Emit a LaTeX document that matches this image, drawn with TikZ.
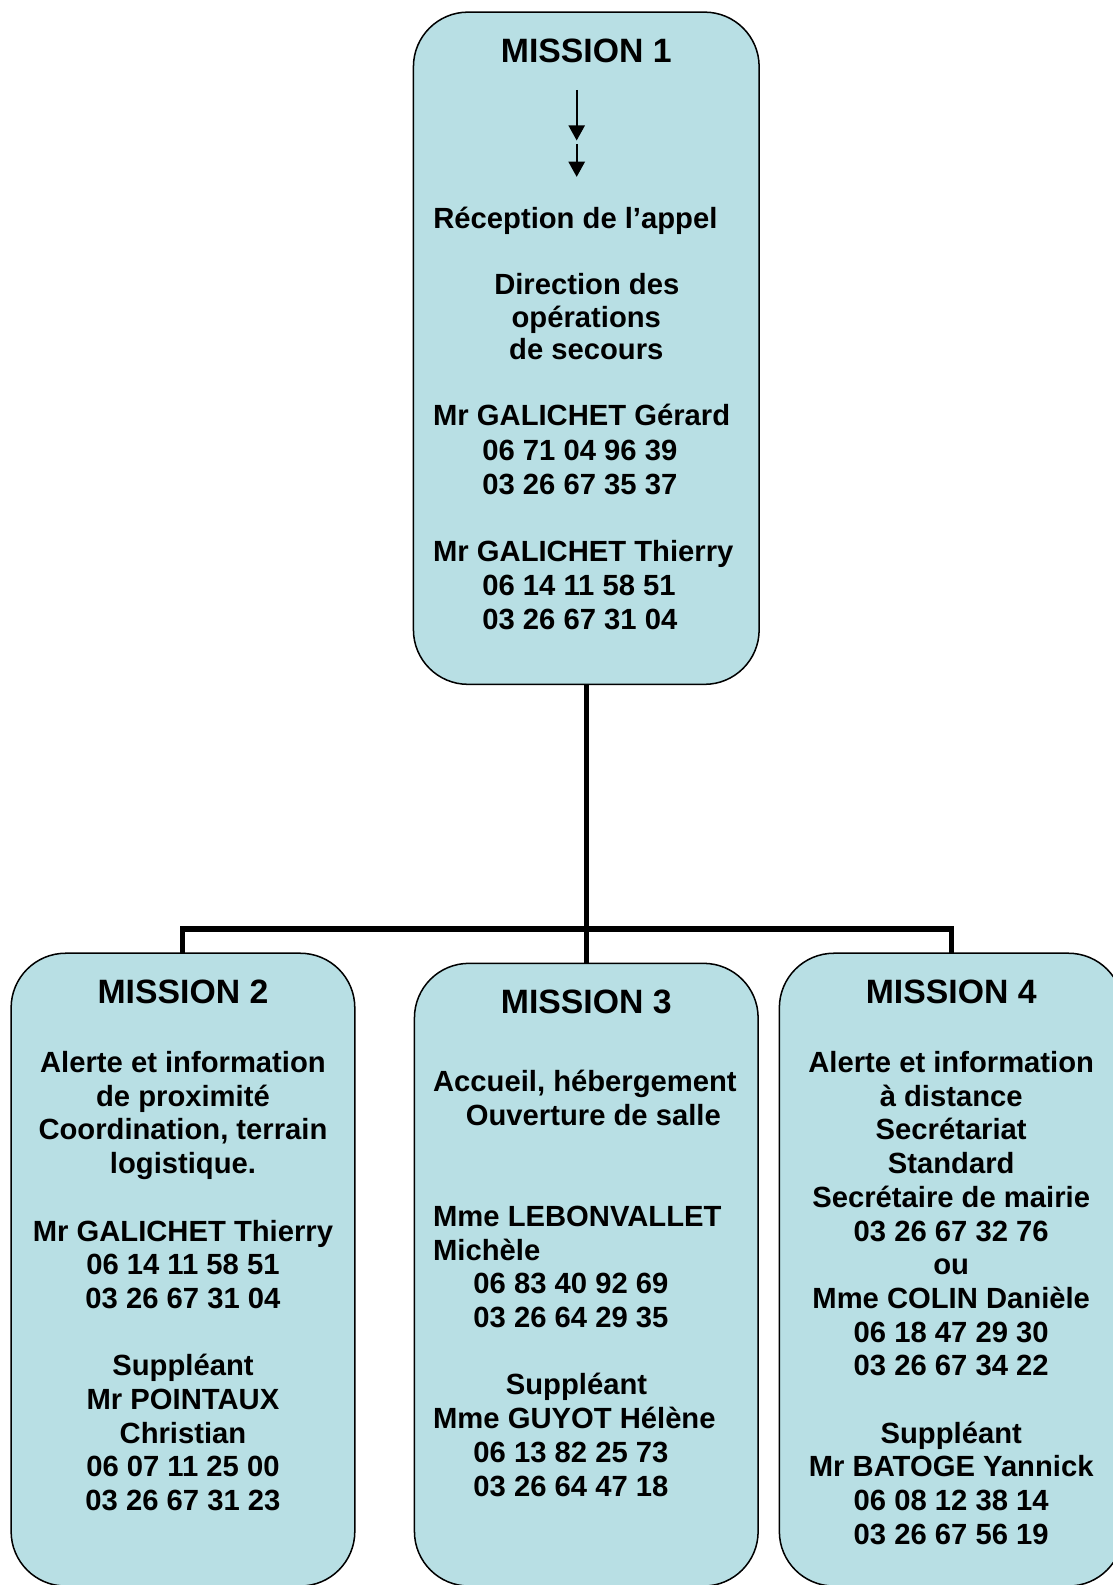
\documentclass[tikz,border=0pt]{standalone}
\usepackage{fontspec}
\setmainfont{Liberation Sans}
\usetikzlibrary{arrows.meta}
\definecolor{boxfill}{RGB}{184,223,228}
\begin{document}
\begin{tikzpicture}[x=1pt,y=-1pt,
  box/.style={draw=black, line width=1.5pt, fill=boxfill, rounded corners=54pt, inner sep=0pt, outer sep=0pt},
  conn/.style={draw=black, line width=5pt, line join=miter},
  arr/.style={draw=black, line width=2pt, -{Triangle[length=15pt,width=16pt]}},
  ttl/.style={font=\bfseries\fontsize{33.4}{38}\selectfont, inner sep=0pt, anchor=base},
  txt/.style={font=\bfseries\fontsize{28.9}{33.3}\selectfont, inner sep=0pt, anchor=base},
  txl/.style={txt, anchor=base west}]
\useasboundingbox (0,0) rectangle (1101,1568);
\fill[white] (0,0) rectangle (1101,1568);

% boxes
\node[box, minimum width=342pt, minimum height=665pt] (m1) at (580,344.5) {};
\node[box, minimum width=340pt, minimum height=626pt] (m2) at (181,1256) {};
\node[box, minimum width=340pt, minimum height=616pt] (m3) at (580,1261) {};
\node[box, minimum width=340pt, minimum height=626pt] (m4) at (941,1256) {};

% connectors
\coordinate (j) at (580,919);
\draw[conn] (m1.south) -- (m3.north);
\draw[conn] (m2.north) -- (m2.north |- j) -- (m4.north |- j) -- (m4.north);

% arrows in mission 1
\coordinate (a1) at (570.5,89);
\coordinate (a2) at (570.5,139);
\coordinate (a3) at (570.5,142.5);
\coordinate (a4) at (570.5,175);
\draw[arr] (a1) -- (a2);
\draw[arr] (a3) -- (a4);

% Mission 1 texts
\node[ttl] (t1) at (580,62) {MISSION 1};
\node[txl] (t1a) at (428.5,226.5) {Réception de l’appel};
\node[txt] (t1b) at (580.5,291.8) {Direction des};
\node[txt] (t1c) at (580,324.2) {opérations};
\node[txt] (t1d) at (580,356.1) {de secours};
\node[txl] (t1e) at (428.3,421.4) {Mr GALICHET Gérard};
\node[txl] (t1f) at (477,455.7) {06 71 04 96 39};
\node[txl] (t1g) at (477,489) {03 26 67 35 37};
\node[txl] (t1h) at (428.3,555.6) {Mr GALICHET Thierry};
\node[txl] (t1i) at (477,588.8) {06 14 11 58 51};
\node[txl] (t1j) at (477,622.3) {03 26 67 31 04};

% Mission 2 texts
\node[ttl] (t2) at (181,993) {MISSION 2};
\node[txt] (t2a) at (181,1061) {Alerte et information};
\node[txt] (t2b) at (181,1094.3) {de proximité};
\node[txt] (t2c) at (181,1127.7) {Coordination, terrain};
\node[txt] (t2d) at (181,1161) {logistique.};
\node[txt] (t2e) at (181,1227.7) {Mr GALICHET Thierry};
\node[txt] (t2f) at (181,1261) {06 14 11 58 51};
\node[txt] (t2g) at (181,1294.3) {03 26 67 31 04};
\node[txt] (t2h) at (181,1361) {Suppléant};
\node[txt] (t2i) at (181,1394.3) {Mr POINTAUX};
\node[txt] (t2j) at (181,1427.7) {Christian};
\node[txt] (t2k) at (181,1461) {06 07 11 25 00};
\node[txt] (t2l) at (181,1494.3) {03 26 67 31 23};

% Mission 3 texts
\node[ttl] (t3) at (580,1003) {MISSION 3};
\node[txl] (t3a) at (428.3,1080) {Accueil, hébergement};
\node[txl] (t3b) at (460.7,1113.3) {Ouverture de salle};
\node[txl] (t3c) at (428.3,1213.3) {Mme LEBONVALLET};
\node[txl] (t3d) at (428.3,1246.6) {Michèle};
\node[txl] (t3e) at (468.2,1280) {06 83 40 92 69};
\node[txl] (t3f) at (468.2,1313.3) {03 26 64 29 35};
\node[txt] (t3g) at (570.3,1380) {Suppléant};
\node[txl] (t3h) at (428.3,1413.3) {Mme GUYOT Hélène};
\node[txl] (t3i) at (468.2,1446.6) {06 13 82 25 73};
\node[txl] (t3j) at (468.2,1480) {03 26 64 47 18};

% Mission 4 texts
\node[ttl] (t4) at (941,993) {MISSION 4};
\node[txt] (t4a) at (941,1061) {Alerte et information};
\node[txt] (t4b) at (941,1094.3) {à distance};
\node[txt] (t4c) at (941,1127.7) {Secrétariat};
\node[txt] (t4d) at (941,1161) {Standard};
\node[txt] (t4e) at (941,1194.3) {Secrétaire de mairie};
\node[txt] (t4f) at (941,1227.7) {03 26 67 32 76};
\node[txt] (t4g) at (941,1261) {ou};
\node[txt] (t4h) at (941,1294.3) {Mme COLIN Danièle};
\node[txt] (t4i) at (941,1327.7) {06 18 47 29 30};
\node[txt] (t4j) at (941,1361) {03 26 67 34 22};
\node[txt] (t4k) at (941,1427.7) {Suppléant};
\node[txt] (t4l) at (941,1461) {Mr BATOGE Yannick};
\node[txt] (t4m) at (941,1494.3) {06 08 12 38 14};
\node[txt] (t4n) at (941,1527.7) {03 26 67 56 19};
\end{tikzpicture}
\end{document}
